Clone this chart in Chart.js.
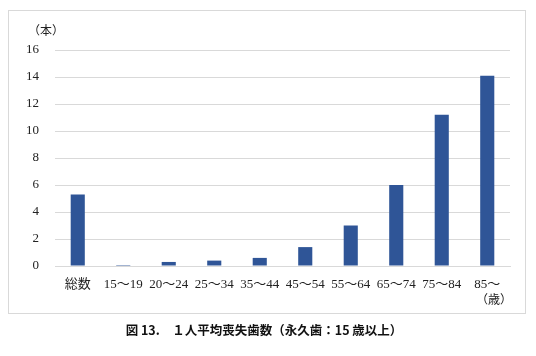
<!DOCTYPE html>
<html>
<head>
<meta charset="utf-8">
<script src="https://cdn.jsdelivr.net/npm/chart.js@4"></script>
<style>
  body { margin: 0; background: #fff; }
  #wrap { position: relative; width: 536px; height: 356px; }
  #frame { position: absolute; left: 8px; top: 10px; width: 516px; height: 302px; border: 1px solid #d9d9d9; }
  canvas { position: absolute; left: 0; top: 0; }
  .lbl { position: absolute; font-family: "Liberation Serif", "Noto Sans CJK JP", serif; font-size: 12px; color: #222; white-space: nowrap; }
  #caption { position: absolute; left: 0; width: 528px; top: 320px; text-align: center; font-family: "Noto Sans CJK JP", sans-serif; font-weight: bold; font-size: 12.5px; color: #111; }
</style>
</head>
<body>
<div id="wrap">
  <div id="frame"></div>
  <canvas id="chart" width="536" height="356"></canvas>
  <div class="lbl" style="left:28px; top:21px;">（本）</div>
  <div class="lbl" style="left:476px; top:290px;">（歳）</div>
  <div id="caption">図 13.　１人平均喪失歯数（永久歯：15 歳以上）</div>
</div>
<script>
"use strict";

const categories = ["総数", "15～19", "20～24", "25～34", "35～44", "45～54", "55～64", "65～74", "75～84", "85～"];
const lostTeeth = [5.3, 0.07, 0.3, 0.4, 0.6, 1.4, 3.0, 6.0, 11.2, 14.1];
const yTicks = [0, 2, 4, 6, 8, 10, 12, 14, 16];

const tickFont = { family: "'Liberation Serif', 'Noto Sans CJK JP', serif", size: 13 };

new Chart(document.getElementById("chart"), {
  type: "bar",
  data: {
    labels: categories,
    datasets: [{
      label: "1人平均喪失歯数",
      data: lostTeeth,
      backgroundColor: "#2f5597",
      barPercentage: 0.31,
      categoryPercentage: 1
    }]
  },
  options: {
    responsive: false,
    animation: false,
    layout: { padding: { left: 0, right: 26, top: 50, bottom: 60 } },
    plugins: { legend: { display: false }, tooltip: { enabled: false } },
    scales: {
      x: {
        grid: { display: false },
        border: { display: true, color: "#d9d9d9" },
        ticks: { color: "#222", font: tickFont, padding: 3, maxRotation: 0, autoSkip: false },
        afterFit: s => { s.height = 30; }
      },
      y: {
        min: 0,
        max: 16,
        afterBuildTicks: s => { s.ticks = yTicks.map(v => ({ value: v })); },
        grid: { color: "#d9d9d9", drawTicks: false },
        border: { display: false },
        ticks: { color: "#222", font: tickFont, padding: 16 },
        afterFit: s => { s.width = 55; }
      }
    }
  }
});
</script>
</body>
</html>
